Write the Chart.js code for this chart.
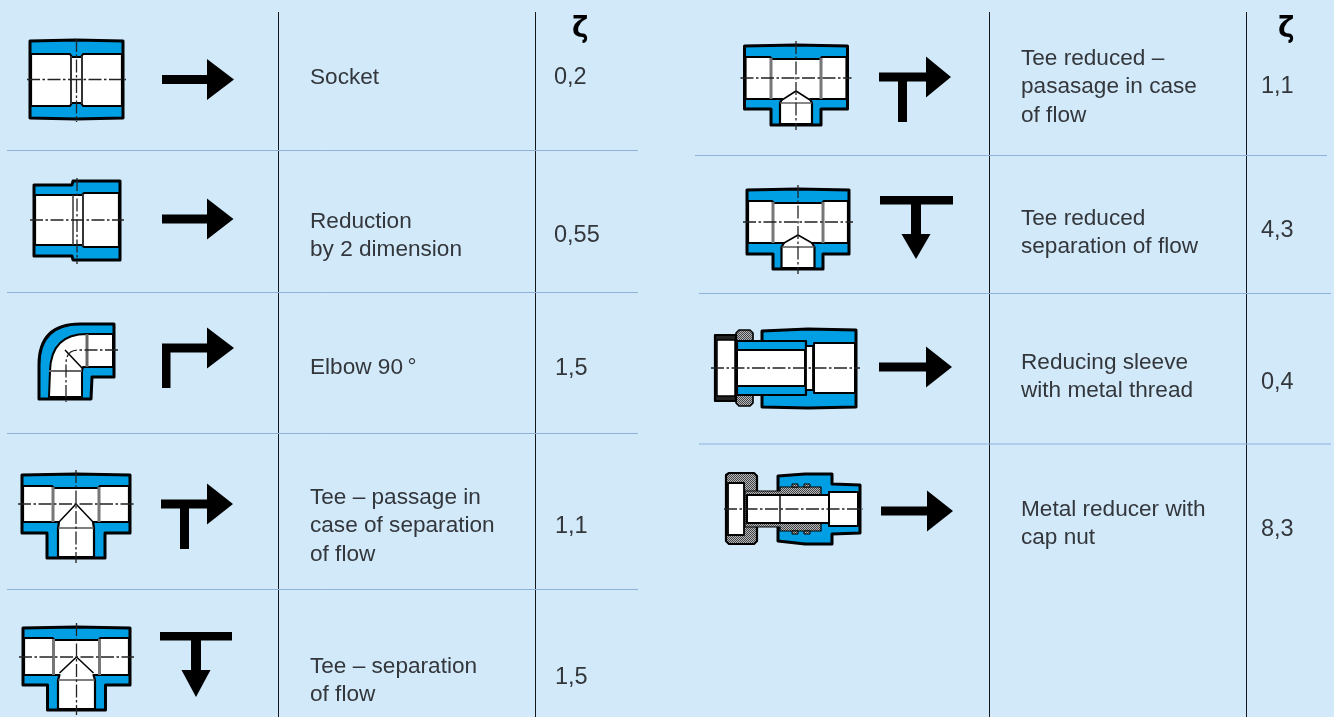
<!DOCTYPE html>
<html>
<head>
<meta charset="utf-8">
<title>Pressure loss coefficients</title>
<script src="https://cdn.jsdelivr.net/npm/chart.js@4"></script>
<style>
    html, body { margin: 0; padding: 0; background: #d2e9fa; overflow: hidden; }
    canvas { display: block; }
</style>
</head>
<body>
<canvas id="chart1" width="1334" height="717"></canvas>
<script>
// Table content
const zetaHeader = 'ζ';
const leftLabels = [
    ['Socket'],
    ['Reduction', 'by 2 dimension'],
    ['Elbow 90\u2009°'],
    ['Tee – passage in', 'case of separation', 'of flow'],
    ['Tee – separation', 'of flow']
];
const leftZeta = ['0,2', '0,55', '1,5', '1,1', '1,5'];
const rightLabels = [
    ['Tee reduced –', 'pasasage in case', 'of flow'],
    ['Tee reduced', 'separation of flow'],
    ['Reducing sleeve', 'with metal thread'],
    ['Metal reducer with', 'cap nut']
];
const rightZeta = ['1,1', '4,3', '0,4', '8,3'];

// Layout, in page pixels
const leftTextX = 310, rightTextX = 1021;
const leftZetaX = [554, 554, 555, 555, 555], rightZetaX = [1261, 1261, 1261, 1261];
const leftZetaY = [84, 242, 375, 533, 684], rightZetaY = [93, 237, 389, 536];
const leftTextY = [84, 228, 374, 504, 673], rightTextY = [65, 225, 369, 516];
const rowRules = [[150.5, 7, 638], [292.5, 7, 638], [433.5, 7, 638], [589.5, 7, 638],
                  [155.5, 695, 1327], [293.5, 699, 1331], [444, 699, 1331]];
const colRules = [278.5, 535.5, 989.5, 1246.5];

const BLUE = '#009fe3', BLACK = '#000', BG = '#d2e9fa', RULE = '#8fb2dc', TEXT = '#33373b';

let px, py, c, metal;

function poly(pts, fill, stroke, lw) {
    c.beginPath();
    pts.forEach((p, i) => i ? c.lineTo(px(p[0]), py(p[1])) : c.moveTo(px(p[0]), py(p[1])));
    c.closePath();
    if (fill) { c.fillStyle = fill; c.fill(); }
    if (stroke) { c.strokeStyle = stroke; c.lineWidth = lw || 2; c.lineJoin = 'round'; c.stroke(); }
}
function line(x0, y0, x1, y1, color, lw) {
    c.beginPath();
    c.moveTo(px(x0), py(y0));
    c.lineTo(px(x1), py(y1));
    c.strokeStyle = color || BLACK;
    c.lineWidth = lw || 1;
    c.stroke();
}
function box(x0, y0, x1, y1, fill, stroke, lw) {
    poly([[x0, y0], [x1, y0], [x1, y1], [x0, y1]], fill, stroke, lw);
}
function center(x0, y0, x1, y1) {
    c.save();
    c.setLineDash([13, 2.5, 2.5, 2.5]);
    line(x0, y0, x1, y1, '#222', 1.3);
    c.restore();
}

// black flow arrows
function arrowRight(x0, y, baseX, tipX) {
    poly([[x0, y - 4.5], [baseX, y - 4.5], [baseX, y - 20.5], [tipX, y], [baseX, y + 20.5], [baseX, y + 4.5], [x0, y + 4.5]], BLACK);
}
function arrowElbow(x0, y, bottom, baseX, tipX) {
    arrowRight(x0, y, baseX, tipX);
    box(x0, y - 4, x0 + 8.5, bottom, BLACK);
}
function arrowTee(x0, y, stemX, bottom, baseX, tipX) {
    arrowRight(x0, y, baseX, tipX);
    box(stemX, y, stemX + 9, bottom, BLACK);
}
function arrowDown(x0, x1, top, stemX, baseY, tipY) {
    box(x0, top, x1, top + 8.5, BLACK);
    box(stemX - 5, top, stemX + 5, baseY, BLACK);
    poly([[stemX - 14.5, baseY], [stemX + 14.5, baseY], [stemX, tipY]], BLACK);
}

function tee(t) {
    const x = t.cx, y = t.cy, w = t.hw, b = t.cw;
    poly([[x - w, y + t.top], [x, y + t.top - 1], [x + w, y + t.top], [x + w, y + t.body], [x + t.stem, y + t.body],
          [x + t.stem, y + t.stemBot], [x - t.stem, y + t.stemBot], [x - t.stem, y + t.body], [x - w, y + t.body]],
         BLUE, BLACK, 3);
    poly([[x - w + 1, y + t.band], [x - b - 2, y + t.band], [x - b, y + t.band + 2], [x + b, y + t.band + 2], [x + b + 2, y + t.band],
          [x + w - 1, y + t.band], [x + w - 1, y + t.sock], [x + b + 2, y + t.sock], [x + t.cone, y + t.sock], [x + t.br, y + t.brTop], [x + t.br, y + t.stemBot - 1],
          [x - t.br, y + t.stemBot - 1], [x - t.br, y + t.brTop], [x - t.cone, y + t.sock], [x - b - 2, y + t.sock], [x - w + 1, y + t.sock]],
         '#fff', BLACK, 2.2);
    line(x - b - 1, y + t.band + 1, x - b - 1, y + t.sock, '#777', 3);
    line(x + b + 1, y + t.band + 1, x + b + 1, y + t.sock, '#777', 3);
    line(x - t.br, y + t.brTop, x + t.br, y + t.brTop, '#555', 1.4);
    line(x - t.cone, y + t.coneY, x, y + t.apex, BLACK, 1.5);
    line(x, y + t.apex, x + t.cone, y + t.coneY, BLACK, 1.5);
    center(x - w - 4, y, x + w + 4, y);
    center(x, y + t.top - 5, x, y + t.stemBot + 5);
}

function socket() {
    poly([[30, 41], [76, 40], [123, 41], [123, 118], [76, 119], [30, 118]], BLUE, BLACK, 3);
    poly([[31, 54], [70, 54], [72, 57], [81, 57], [83, 54], [122, 54], [122, 106], [83, 106], [81, 103], [72, 103], [70, 106], [31, 106]], '#fff', BLACK, 2.2);
    line(71, 56, 71, 104, '#333', 2); line(82, 56, 82, 104, '#333', 2);
    center(27, 79.5, 126, 79.5);
    center(76.5, 39, 76.5, 122);
}
function reduction() {
    poly([[34, 185], [72, 185], [73, 181], [120, 181], [120, 260], [73, 260], [72, 256], [34, 256]], BLUE, BLACK, 3);
    poly([[35, 195], [82, 195], [84, 193], [119, 193], [119, 247], [84, 247], [82, 245], [35, 245]], '#fff', BLACK, 2.2);
    line(73, 195, 73, 245, '#333', 1.5); line(83, 194, 83, 246, '#333', 2);
    center(30, 220, 124, 220);
    center(77, 178, 77, 264);
}
function elbow() {
    c.beginPath();
    c.moveTo(px(39), py(399));
    c.lineTo(px(39), py(365));
    c.quadraticCurveTo(px(39), py(324), px(80), py(324));
    [[114, 324], [114, 377], [92, 377], [91, 399]].forEach(p => c.lineTo(px(p[0]), py(p[1])));
    c.closePath();
    c.fillStyle = BLUE; c.fill();
    c.strokeStyle = BLACK; c.lineWidth = 3; c.lineJoin = 'round'; c.stroke();
    c.beginPath();
    c.moveTo(px(49), py(397));
    c.lineTo(px(50), py(371));
    c.quadraticCurveTo(px(51), py(334), px(87), py(334));
    [[113, 334], [113, 367], [87, 367], [83, 367], [82, 371], [82, 397]].forEach(p => c.lineTo(px(p[0]), py(p[1])));
    c.closePath();
    c.fillStyle = '#fff'; c.fill();
    c.lineWidth = 2; c.stroke();
    line(87, 334, 87, 367, '#666', 3);
    line(49, 371, 82, 371, '#666', 2);
    line(65, 350, 83, 369, BLACK, 1.5);
    c.save();
    c.setLineDash([13, 2.5, 2.5, 2.5]);
    c.beginPath();
    c.moveTo(px(118), py(350));
    c.lineTo(px(78), py(350));
    c.quadraticCurveTo(px(66), py(350), px(66), py(364));
    c.lineTo(px(66), py(402));
    c.strokeStyle = '#222'; c.lineWidth = 1.3; c.stroke();
    c.restore();
}
function sleeve() {
    poly([[762, 331], [808, 329], [856, 330], [856, 407], [808, 408], [762, 407]], BLUE, BLACK, 3);
    poly([[736, 333], [739, 330], [750, 330], [753, 333], [753, 403], [750, 406], [739, 406], [736, 403]], metal, BLACK, 1.6);
    box(715, 335, 736, 401, '#222', BLACK, 2.2);
    box(717, 340, 735, 396, '#fff', BLACK, 1.5);
    box(737, 341, 806, 395, BLUE, BLACK, 2.2);
    box(737, 350, 805, 386, '#fff', BLACK, 2);
    box(806, 346, 813, 390, '#fff', BLACK, 1.8);
    box(814, 343, 855, 393, '#fff', BLACK, 2);
    center(711, 368, 860, 368);
}
function reducer() {
    poly([[778, 476], [805, 474], [832, 474], [832, 484], [860, 485], [860, 533], [832, 534], [832, 544], [805, 544], [778, 541]], BLUE, BLACK, 3);
    poly([[726, 475], [729, 473], [754, 473], [757, 476], [757, 541], [754, 544], [729, 544], [726, 541]], metal, BLACK, 2.2);
    poly([[745, 491], [780, 491], [780, 487], [821, 487], [821, 531], [780, 531], [780, 527], [745, 527]], metal, BLACK, 1.2);
    // thread teeth
    [792, 804].forEach(x => {
        box(x, 484, x + 6, 487, metal, BLACK, 1);
        box(x, 531, x + 6, 534, metal, BLACK, 1);
    });
    box(728, 483, 744, 535, '#fff', BLACK, 1.8);
    box(747, 495, 829, 523, '#fff', BLACK, 2);
    line(780, 495, 780, 523, BLACK, 1.4);
    box(829, 492, 858, 526, '#fff', BLACK, 2);
    center(724, 509, 863, 509);
}

// fittings and flow arrows, in page pixels
function drawFittings() {
    socket();
    arrowRight(162, 79.5, 207, 234);
    reduction();
    arrowRight(162, 219, 207, 233.5);
    elbow();
    arrowElbow(162, 348, 388, 207, 234);
    tee({ cx: 76, cy: 504, hw: 54, cw: 22, top: -29, band: -18, sock: 18, body: 29, stem: 29, stemBot: 54, br: 18, brTop: 24, apex: 0, cone: 17, coneY: 18 });
    arrowTee(161, 504, 180, 549, 207, 233);
    tee({ cx: 76.5, cy: 657, hw: 53.5, cw: 22, top: -29, band: -19, sock: 18, body: 28, stem: 29, stemBot: 53, br: 18.5, brTop: 23, apex: 0, cone: 17, coneY: 16 });
    arrowDown(160, 232, 632, 196, 670, 697);
    tee({ cx: 796, cy: 78, hw: 51.5, cw: 24, top: -32, band: -21, sock: 21, body: 31, stem: 25, stemBot: 47, br: 16, brTop: 25, apex: 13, cone: 14, coneY: 22 });
    arrowTee(879, 77, 898, 122, 926, 951);
    tee({ cx: 798, cy: 222, hw: 51, cw: 24, top: -32, band: -21, sock: 21, body: 32, stem: 25, stemBot: 47, br: 16.5, brTop: 25, apex: 13, cone: 14, coneY: 21 });
    arrowDown(880, 953, 196, 916, 234, 259);
    sleeve();
    arrowRight(879, 367, 926, 952);
    reducer();
    arrowRight(881, 511, 927, 953);
}

function writeRow(lines, x, y, size) {
    c.font = size + 'px "Liberation Sans"';
    c.fillStyle = TEXT;
    c.textBaseline = 'alphabetic';
    lines.forEach((t, i) => c.fillText(t, px(x), py(y + i * 28.3)));
}

const tablePlugin = {
    id: 'table',
    afterDatasetsDraw(chart) {
        c = chart.ctx;
        px = v => chart.scales.x.getPixelForValue(v);
        py = v => chart.scales.y.getPixelForValue(v);
        if (!metal) {
            const tile = document.createElement('canvas');
            tile.width = tile.height = 2;
            const t = tile.getContext('2d');
            t.fillStyle = '#b4b8ba'; t.fillRect(0, 0, 2, 2);
            t.fillStyle = '#444'; t.fillRect(0, 0, 1, 1); t.fillRect(1, 1, 1, 1);
            metal = c.createPattern(tile, 'repeat');
        }
        c.save();
        drawFittings();
        leftLabels.forEach((l, i) => writeRow(l, leftTextX, leftTextY[i], 22.6));
        rightLabels.forEach((l, i) => writeRow(l, rightTextX, rightTextY[i], 22.6));
        // the zeta points carry their value as text
        chart.data.datasets.filter(d => d.zeta).forEach(d => {
            d.data.forEach((p, i) => writeRow([d.zeta[i]], p.x, p.y, 23.5));
        });
        c.font = 'bold 28px "DejaVu Sans"';
        c.fillStyle = BLACK;
        c.fillText(zetaHeader, px(572), py(37));
        c.fillText(zetaHeader, px(1278), py(37));
        c.restore();
    }
};

const ruleSets = [
    ...rowRules.map(r => ({ data: [{ x: r[1], y: r[0] }, { x: r[2], y: r[0] }], borderColor: RULE, borderWidth: 1 })),
    ...colRules.map(x => ({ data: [{ x: x, y: 12 }, { x: x, y: 717 }], borderColor: '#15181b', borderWidth: 1 }))
].map(d => Object.assign(d, { showLine: true, pointRadius: 0, clip: false }));

const ctx1 = document.getElementById('chart1').getContext('2d');
new Chart(ctx1, {
    type: 'scatter',
    data: {
        datasets: [
            ...ruleSets,
            { label: 'ζ left', zeta: leftZeta, pointRadius: 0, data: leftZeta.map((v, i) => ({ x: leftZetaX[i], y: leftZetaY[i] })) },
            { label: 'ζ right', zeta: rightZeta, pointRadius: 0, data: rightZeta.map((v, i) => ({ x: rightZetaX[i], y: rightZetaY[i] })) }
        ]
    },
    options: {
        responsive: false,
        animation: false,
        events: [],
        layout: { padding: 0 },
        plugins: { legend: { display: false }, tooltip: { enabled: false } },
        scales: {
            x: { type: 'linear', display: false, min: 0, max: 1334 },
            y: { type: 'linear', display: false, min: 0, max: 717, reverse: true }
        }
    },
    plugins: [tablePlugin]
});
</script>
</body>
</html>
